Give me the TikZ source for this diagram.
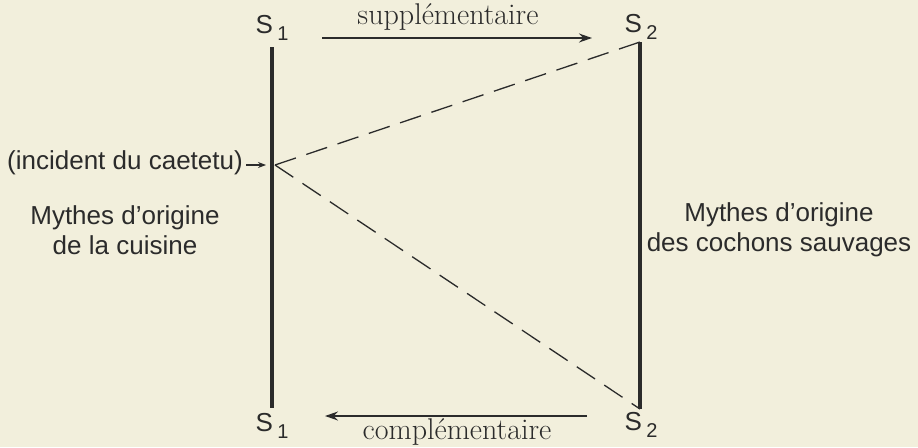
\documentclass[tikz,border=0pt]{standalone}
\usepackage{fontspec}
\setsansfont{Liberation Sans}
\usepackage{xcolor}
\usetikzlibrary{arrows.meta,positioning}

\definecolor{paper}{HTML}{F2EFDC}
\definecolor{ink}{HTML}{2B2B2B}
\newcommand{\sidx}[1]{\,\raisebox{-0.25em}{\fontsize{20}{20}\selectfont #1}}

\begin{document}
\begin{tikzpicture}[x=1pt,y=-1pt,
    lab/.style={font=\sffamily\fontsize{26}{30}\selectfont, text=ink, inner sep=0pt},
    slab/.style={font=\sffamily\fontsize{26}{26}\selectfont, text=ink, inner sep=0pt},
    rel/.style={font=\rmfamily\fontsize{30}{30}\selectfont\addfontfeature{LetterSpace=5}, text=ink, inner sep=0pt},
    bar/.style={draw=ink, line width=3.6pt},
    dsh/.style={draw=ink, line width=1.3pt, dash pattern=on 22pt off 11pt},
    arr/.style={draw=ink, line width=1.4pt, -{Stealth[length=13pt,width=9pt]}}
  ]
    \fill[paper] (0,0) rectangle (918,447);
    % the two series
    \node[slab] (s1t) at (272,28) {S\sidx{1}};
    \node[slab] (s2t) at (641,27) {S\sidx{2}};
    \node[slab] (s1b) at (272,426) {S\sidx{1}};
    \node[slab] (s2b) at (641,425) {S\sidx{2}};
    \coordinate (l1t) at (272,47);
    \coordinate (l1b) at (272,408);
    \coordinate (l2t) at (640,42);
    \coordinate (l2b) at (640,409);
    \draw[bar] (l1t) -- (l1b);
    \draw[bar] (l2t) -- (l2b);
    % transformations
    \coordinate (inc) at (275,165);
    \draw[dsh] (inc) -- (l2t);
    \draw[dsh] (inc) -- (l2b);
    \node[lab, anchor=east] (caetetu) at (243,163) {(incident du caetetu)};
    \coordinate (c1) at (266,165);
    \draw[draw=ink, line width=1.2pt, -{Stealth[length=8pt,width=6pt]}] ([xshift=3pt,yshift=-2pt]caetetu.east) -- (c1);
    % relations
    \coordinate (a1) at (322,38);
    \coordinate (a2) at (592,38);
    \draw[arr] (a1) -- (a2);
    \node[rel] (sup) at (448,17) {supplémentaire};
    \coordinate (b1) at (587,416);
    \coordinate (b2) at (325,416);
    \draw[arr] (b1) -- (b2);
    \node[rel] (comp) at (457,432) {complémentaire};
    % groups of myths
    \node[lab, align=center] (cuisine) at (125,230) {Mythes d'origine\\de la cuisine};
    \node[lab, align=center] (cochons) at (779,230) {Mythes d'origine\\des cochons sauvages};
\end{tikzpicture}
\end{document}
